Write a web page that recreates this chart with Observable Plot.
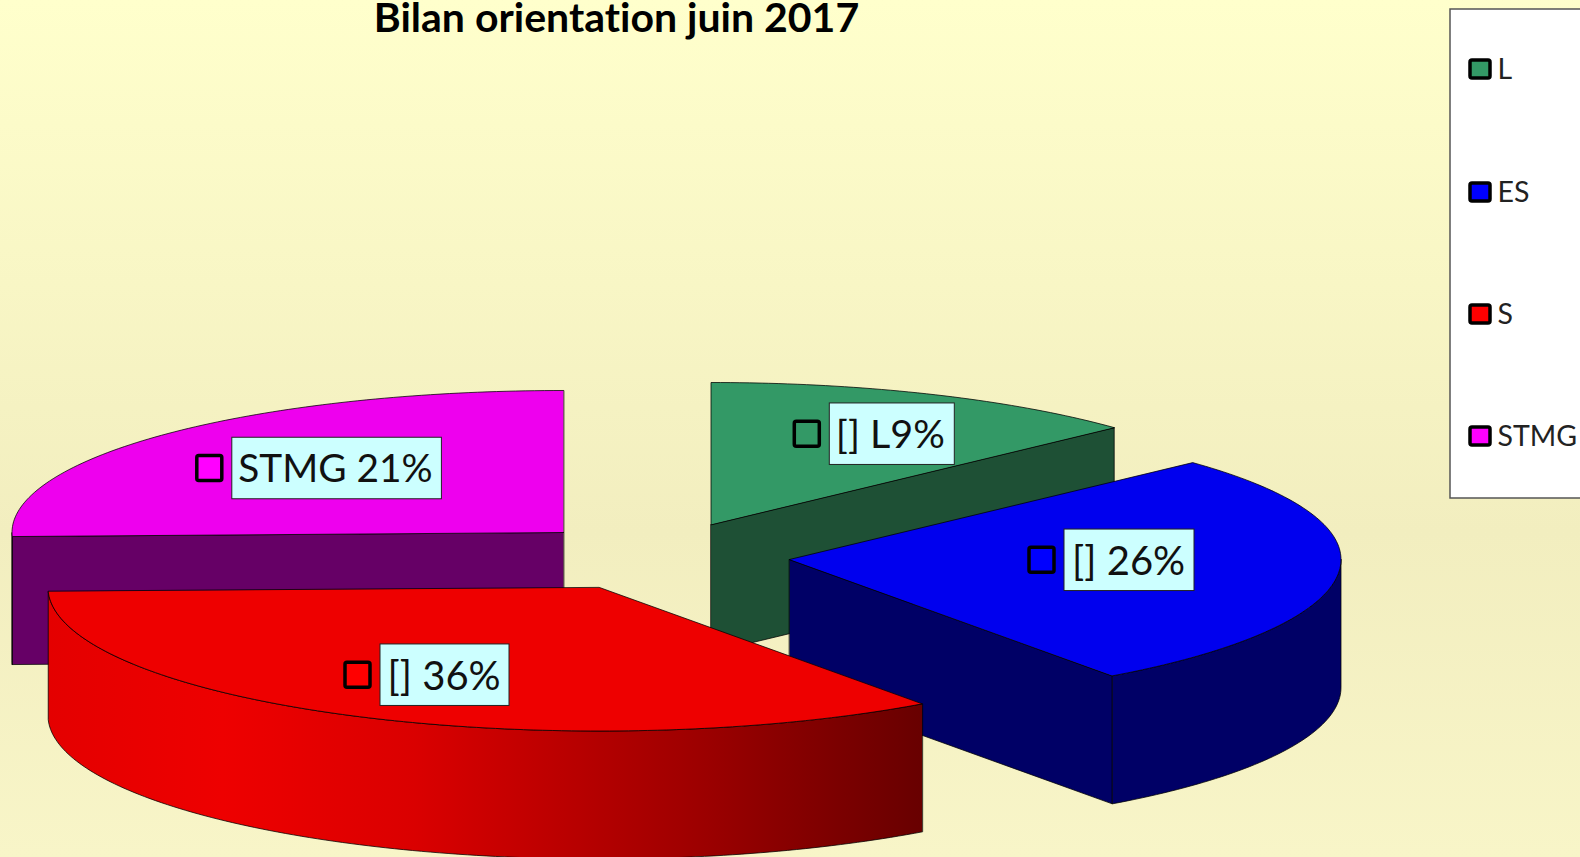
<!DOCTYPE html>
<html><head><meta charset="utf-8">
<script src="https://cdn.jsdelivr.net/npm/d3@7"></script>
<script src="https://cdn.jsdelivr.net/npm/@observablehq/plot@0.6"></script>
<style>html,body{margin:0;padding:0;overflow:hidden} svg text{font-variant-ligatures:none}</style>
</head><body>
<div id="chart"></div>
<script>
// ---- data ----
const categories = ["L", "ES", "S", "STMG"];
const sliceShares = [13.05, 27.0, 34.5, 25.45];   // drawn size of each wedge, % of the turn
const labelTexts = ["[] L9%", "[] 26%", "[] 36%", "STMG 21%"];
const chartTitle = "Bilan orientation juin 2017";

// ---- styles ----
const legendColors = ["#339966", "#0000ff", "#ff0000", "#ff00ff"];
const topColors = ["#339966", "#0000ee", "#ee0000", "#ee00ee"];
const sideColors = ["#1e5035", "#000066", "url(#redRim)", "#660066"];
const cutColors = ["#1e5035", "#000066", "#660066", "#660066"];

// ---- layout ----
const W = 1580, H = 857;
const rx = 551.5, ryBack = 142, ryFront = 143.5, depth = 128;
const apexes = [[710.5, 524], [789, 559], [599, 587], [563, 532]];
const labelBoxes = [
  {x: 829.3, y: 433.7, w: 125, size: 39.5, pad: 6},
  {x: 1064, y: 559.8, w: 130, size: 40, pad: 7.5},
  {x: 380, y: 674.7, w: 129, size: 40, pad: 7},
  {x: 231.8, y: 468, w: 209.6, size: 38.8, pad: 6}
];
const boxH = 61.5, markerSize = 25, markerGap = 10;
const legend = {x: 1450, y1: 9, y2: 498, markerX: 1470, markerW: 20, markerH: 18, textX: 1497, rows: [69, 192, 314, 436]};

// ---- geometry from the shares ----
const pt = (a, t, dy = 0) => {
  const r = t * Math.PI / 180, c = Math.cos(r);
  return {x: a[0] + rx * Math.sin(r), y: a[1] - (c < 0 ? ryFront : ryBack) * c + dy};
};
const arc = (a, t0, t1, dy = 0) => {
  const n = Math.max(2, Math.ceil(Math.abs(t1 - t0)));
  return d3.range(n + 1).map(i => pt(a, t0 + (t1 - t0) * i / n, dy));
};
const apexPt = (a, dy = 0) => ({x: a[0], y: a[1] + dy});

let acc = 0;
const slices = categories.map((name, i) => {
  const t0 = acc * 3.6; acc += sliceShares[i]; const t1 = acc * 3.6;
  return {name, i, t0, t1, a: apexes[i]};
});

const face = (points, fill) => Plot.line(points, {
  x: "x", y: "y", curve: "linear-closed", fill,
  stroke: "#000", strokeWidth: 1, strokeOpacity: 0.75, strokeLinejoin: "round"
});

function sliceMarks(s) {
  const out = [];
  const {a, t0, t1, i} = s;
  // cut faces that look towards the viewer
  if (t1 > 0 && t1 < 180) {
    out.push(face([apexPt(a), pt(a, t1), pt(a, t1, depth), apexPt(a, depth)], cutColors[i]));
  }
  if (t0 > 180) {
    out.push(face([apexPt(a), pt(a, t0), pt(a, t0, depth), apexPt(a, depth)], cutColors[i]));
  }
  // outer rim, only its front part (90deg..270deg)
  const r0 = Math.max(t0, 90), r1 = Math.min(t1, 270);
  if (r1 > r0) {
    out.push(face([...arc(a, r0, r1), ...arc(a, r1, r0, depth)], sideColors[i]));
  }
  // top
  out.push(face([apexPt(a), ...arc(a, t0, t1)], topColors[i]));
  return out;
}

const gradientStops = [[0, "#e40000"], [0.2, "#ee0000"], [0.42, "#da0000"], [0.58, "#bc0000"], [0.75, "#9c0000"], [0.9, "#7c0000"], [1, "#680000"]];
const defsMark = () => {
  const defs = d3.create("svg:defs");
  const g = defs.append("linearGradient").attr("id", "redRim").attr("x1", 0).attr("x2", 1).attr("y1", 0).attr("y2", 0);
  gradientStops.forEach(([o, c]) => g.append("stop").attr("offset", o).attr("stop-color", c));
  return defs.node();
};

const drawOrder = [3, 0, 1, 2];
const labelRows = slices.map((s, i) => ({...labelBoxes[i], text: labelTexts[i], color: legendColors[i]}));
const legendRows = categories.map((name, i) => ({name, color: legendColors[i], y: legend.rows[i]}));
const font = "Lato, 'Open Sans', sans-serif";

const plot = Plot.plot({
  width: W, height: H,
  margin: 0,
  x: {domain: [0, W], range: [0, W], axis: null},
  y: {domain: [0, H], range: [0, H], axis: null},
  color: {type: "identity"},
  style: {background: "linear-gradient(#ffffcc 0%, #f2eebf 62%, #f8f5c8 100%)", fontFamily: font},
  marks: [
    defsMark,
    ...drawOrder.flatMap(i => sliceMarks(slices[i])),
    // data labels
    Plot.rect(labelRows, {x1: "x", x2: d => d.x + d.w, y1: d => d.y - boxH / 2, y2: d => d.y + boxH / 2, fill: "#ccffff", stroke: "#222", strokeWidth: 1}),
    Plot.rect(labelRows, {x1: d => d.x - markerGap - markerSize, x2: d => d.x - markerGap, y1: d => d.y - markerSize / 2, y2: d => d.y + markerSize / 2, fill: "color", stroke: "#000", strokeWidth: 3.5, rx: 2}),
    ...labelRows.map(d => Plot.text([d], {x: r => r.x + r.pad, y: r => r.y + 1.5, text: "text", textAnchor: "start", lineAnchor: "middle", fontSize: d.size, fill: "#111", fontFamily: font})),
    // title
    Plot.text([chartTitle], {x: [616], y: [18], text: d => d, fontSize: 41, fontWeight: 700, fill: "#000", fontFamily: font}),
    // legend
    Plot.rect([legend], {x1: "x", x2: () => W + 20, y1: "y1", y2: "y2", fill: "#fff", stroke: "#555", strokeWidth: 1.5}),
    Plot.rect(legendRows, {x1: () => legend.markerX, x2: () => legend.markerX + legend.markerW, y1: d => d.y - legend.markerH / 2, y2: d => d.y + legend.markerH / 2, fill: "color", stroke: "#000", strokeWidth: 3.5, rx: 2}),
    Plot.text(legendRows, {x: () => legend.textX, y: "y", text: "name", textAnchor: "start", lineAnchor: "middle", fontSize: 28.5, fill: "#222", fontFamily: font})
  ]
});
document.getElementById("chart").append(plot);
</script>
</body></html>
